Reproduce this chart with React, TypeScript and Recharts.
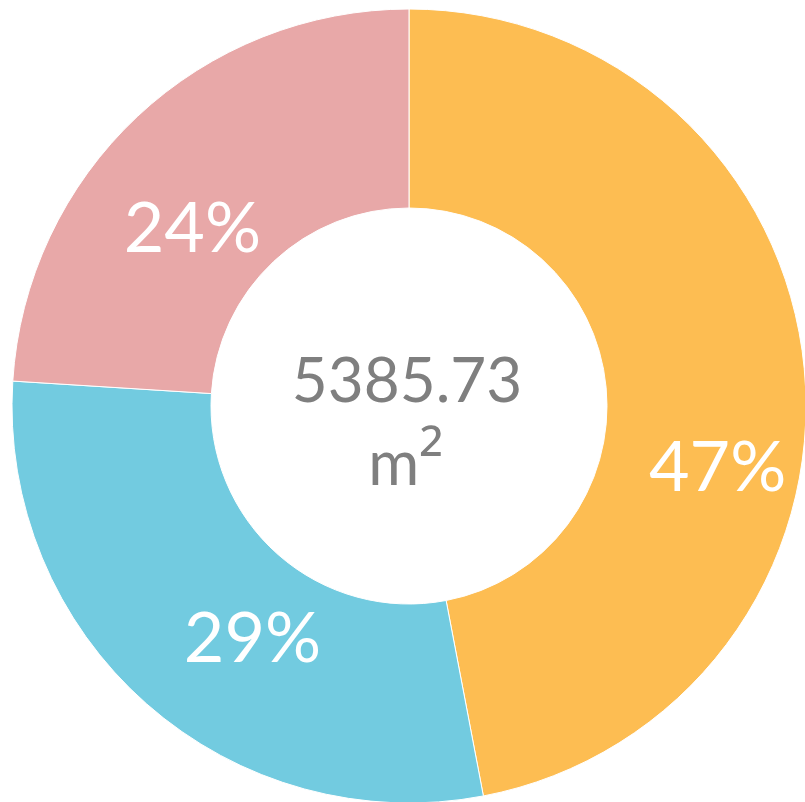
import React from "react";
import { PieChart, Pie, Cell } from "recharts";

// share of total floor area, per category
const categories = ["A", "B", "C"];
const shares = [47, 29, 24];
const totalArea = "5385.73";
const areaBase = "m";
const areaSup = "²";

const COLORS = ["#FDBD52", "#72CBE0", "#E8A8A8"];
const FONT = "Lato, 'Open Sans', sans-serif";

// Excel-style label nudges (degrees along the ring, distance from centre)
const labelShift = [-16, 7, 7];
const labelDist = [314, 277, 282];

const data = categories.map((name, i) => ({ name, value: shares[i] }));

const RADIAN = Math.PI / 180;

const renderLabel = (props: any) => {
  const { cx, cy, midAngle, index, value } = props;
  const a = (midAngle + labelShift[index]) * RADIAN;
  const r = labelDist[index];
  const x = cx + r * Math.cos(a);
  const y = cy - r * Math.sin(a);
  return (
    <g>
      <text
        x={x}
        y={y}
        fill="#ffffff"
        fontSize={70}
        fontFamily={FONT}
        textAnchor="middle"
        dominantBaseline="central"
      >
        {`${value}%`}
      </text>
      {index === 0 && (
        <g fontFamily={FONT} fill="#7F7F7F" fontSize={62} textAnchor="middle">
          <text x={cx - 2} y={cy - 4}>
            {totalArea}
          </text>
          <text x={cx - 3} y={cy + 79}>
            {areaBase}
            <tspan fontFamily="'Open Sans', sans-serif" fontSize={70}>
              {areaSup}
            </tspan>
          </text>
        </g>
      )}
    </g>
  );
};

const App = () => {
  return (
    <div style={{ position: "absolute", left: 0, top: 0, background: "#fff" }}>
      <PieChart width={805} height={802} margin={{ top: 0, right: 0, bottom: 0, left: 0 }}>
        <Pie
          data={data}
          dataKey="value"
          nameKey="name"
          cx={409}
          cy={406}
          innerRadius={198}
          outerRadius={397}
          startAngle={90}
          endAngle={-270}
          stroke="#ffffff"
          strokeWidth={1}
          label={renderLabel}
          labelLine={false}
          isAnimationActive={false}
        >
          {data.map((entry, index) => (
            <Cell key={`cell-${index}`} fill={COLORS[index]} />
          ))}
        </Pie>
      </PieChart>
    </div>
  );
};

export default App;
